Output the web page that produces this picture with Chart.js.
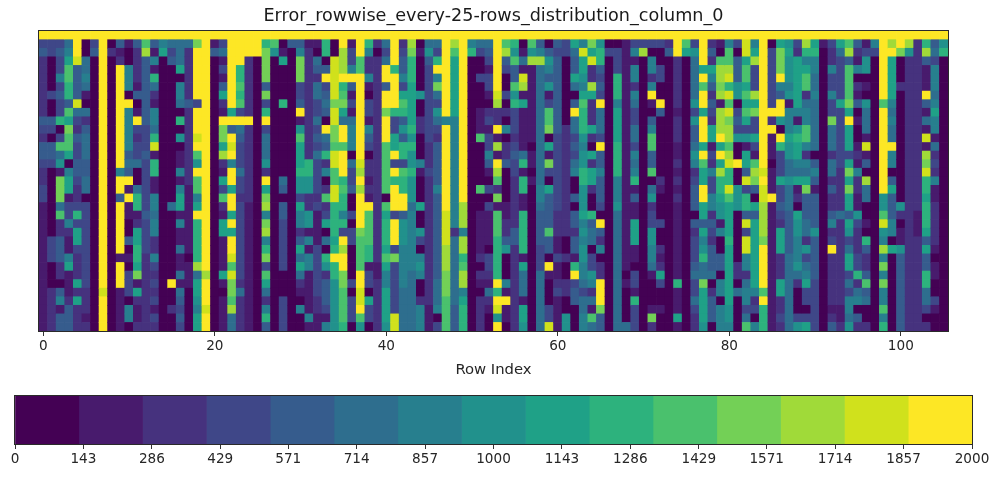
<!DOCTYPE html>
<html>
<head>
<meta charset="utf-8">
<style>
html,body{margin:0;padding:0;background:#fff;width:997px;height:477px;overflow:hidden}
canvas{position:absolute;left:0}
#heat{top:0}
#bar{top:380px}
</style>
<script src="https://cdn.jsdelivr.net/npm/chart.js@4/dist/chart.umd.min.js"></script>
</head>
<body>
<canvas id="heat" width="997" height="380"></canvas>
<canvas id="bar" width="997" height="97"></canvas>
<script>
const titleText = "Error_rowwise_every-25-rows_distribution_column_0";
const xAxisTitle = "Row Index";
const xTicks = [0, 20, 40, 60, 80, 100];
const colorbarTicks = [0, 143, 286, 429, 571, 714, 857, 1000, 1143, 1286, 1429, 1571, 1714, 1857, 2000];
const colorbarEdges = [0, 133.33, 266.67, 400, 533.33, 666.67, 800, 933.33, 1066.67, 1200, 1333.33, 1466.67, 1600, 1733.33, 1866.67, 2000];
const levelColors = ["#440154","#481b6d","#46327e","#3f4788","#365c8d","#2e6e8e","#277f8e","#21918c","#1fa187","#2db27d","#4ac16d","#73d056","#a0da39","#d0e11c","#fde725"];
const rowCount = 35;
// One string per column, top row first. Each token is a colour level (base 15) and how many rows it runs for.
const columnLevels = [
"e1 31 41 27 41 31 21 42 31 22 32 115",
"e1 32 04 31 02 41 31 01 42 31 08 33 03 25",
"e1 31 41 32 61 31 41 31 31 91 01 31 a1 51 71 11 b3 51 a1 22 43 22 01 41 61 11 42",
"e1 51 61 81 a2 92 41 a1 81 b1 a2 81 01 61 82 11 32 61 21 12 61 81 13 21 43",
"e3 d1 44 d1 51 31 21 41 32 42 31 21 21 31 91 31 82 31 23 81 21 81 23",
"e1 02 52 61 51 11 01 51 21 41 53 42 52 01 310 23 11 21",
"e1 31 41 032",
"e30 d1 e4",
"e1 01 21 032",
"e1 41 11 21 e12 61 e2 41 e6 11 e3 15",
"e1 11 02 63 01 e1 64 61 41 51 41 e1 11 e1 12 02 41 01 11 01 33 01 62 01",
"e1 41 21 23 11 41 01 11 e1 31 21 32 51 02 51 92 11 21 82 92 81 b1 11 81 21 12 21",
"e1 a1 c1 48 33 41 36 41 34 29",
"e1 41 11 61 11 91 51 21 11 62 51 91 d1 11 92 12 62 51 62 22 61 31 21 31 21 31 11 31 21",
"e1 61 81 032",
"e1 51 31 41 016 51 08 e1 02 21 02",
"e1 53 81 01 62 51 01 91 01 71 01 12 61 11 61 82 11 61 12 51 12 51 11 51 41 31 41 31",
"e1 51 26 41 29 18 01 13 05",
"e1 b1 e6 31 e3 d1 e1 a1 71 e1 a2 61 81 e1 95 c1 51 82 71 61 82",
"e28 c1 e3 d1 e2",
"e1 11 41 032",
"e1 31 51 11 31 11 41 81 21 11 e1 b2 81 c1 21 11 81 31 a1 21 11 82 14 81 11 01 14",
"e9 81 e1 41 e1 d1 e1 61 e2 81 e2 81 e1 81 e2 d1 a1 d1 b2 a1 c1 52",
"e4 92 a1 91 a1 31 e1 51 41 33 51 32 21 39 21 51 24",
"e3 27 e1 29 115",
"e3 032",
"e1 91 b4 41 b1 31 91 e1 31 53 71 21 e1 81 b1 c1 61 b1 c1 61 91 b1 31 a1 81 51 21 61 91 41",
"e1 a1 71 032",
"e1 01 11 81 04 91 08 51 41 01 42 36 03 34",
"e1 41 01 032",
"e1 41 61 b3 32 41 e1 11 71 a1 83 91 72 31 81 62 21 41 81 51 81 51 21 11 01 61 02",
"e1 11 213 92 72 22 72 11 61 11 62 15 61 11",
"e1 11 01 51 41 21 52 32 51 31 41 31 51 34 21 31 14 36 22 12",
"e1 92 01 41 e1 31 41 51 41 01 e1 51 41 91 21 61 01 21 a1 21 31 81 01 51 01 91 71 21 43 31 11 61",
"e1 02 d5 b1 d2 b2 a1 d2 a2 d2 94 81 91 e1 92 76",
"e2 c3 e1 91 a1 b1 81 51 e2 a1 e3 91 a1 92 61 91 31 e1 c1 e2 b2 a4 91",
"e1 11 32 61 e1 41 11 31 11 51 63 01 51 32 41 02 31 01 32 04 31 01 33 01",
"e3 a2 e10 d1 c1 e1 c1 e4 b1 a4 e2 d2 e1 a1 71",
"e1 91 61 22 61 11 01 32 11 61 41 31 01 22 11 21 11 e1 a4 92 11 32 01 81 32 01",
"e1 21 01 224 12 26",
"e1 51 31 51 e2 41 e2 b1 e3 a6 01 a1 81 93 81 a1 81 62 84 71",
"e4 91 e4 91 32 82 e1 31 e1 91 e3 31 e3 31 b1 36 d2",
"e1 21 31 42 61 31 81 a1 91 41 71 41 92 31 a1 92 e2 41 73 65 55",
"e1 c1 b1 93 85 91 71 91 72 91 73 51 67 57",
"e1 01 11 04 71 02 22 03 61 11 03 81 02 71 31 01 61 71 61 02 21 63",
"e1 51 71 41 39 23 31 215 13",
"e1 51 31 91 e1 61 b1 51 31 71 51 31 21 45 61 410 53 61 01 31",
"e10 61 e10 d4 c3 b3 a4",
"e1 c1 a1 87 613 21 58 43",
"e20 c3 61 c2 91 a1 c2 61 81 93",
"e1 61 91 032",
"e1 51 31 02 31 03 13 a1 05 a1 02 15 21 01 21 11 01 24",
"e1 51 41 31 11 32 11 01 21 31 11 32 61 41 11 01 31 01 31 14 01 32 21 11 51 21 11 02",
"e7 d1 c1 21 21 e1 11 c1 11 e1 c1 a1 21 b1 11 a3 95 e1 91 e1 d1 71 e1",
"e1 a1 c1 41 31 02 31 01 21 01 61 01 22 41 04 12 22 41 71 03 61 11 e1 12 01",
"e1 91 71 a1 42 a1 71 91 33 21 31 41 32 26 42 210",
"e1 01 11 51 11 d1 c1 11 81 15 51 91 11 92 12 95 11 81 53 11 82 71",
"e1 a1 71 c1 19 01 12 01 11 017",
"e1 41 61 c1 514 62 51 44 33 57",
"e1 01 41 71 61 41 71 11 31 a2 b1 01 81 11 b1 31 01 81 44 a1 42 01 e1 11 03 32 d1",
"e1 41 31 49 31 35 33 23 12 31 12 21 31 14",
"e1 32 08 27 26 02 21 02 22 02 72",
"e1 81 51 42 81 51 01 41 e1 52 31 41 31 51 61 02 41 01 42 21 42 11 91 e1 31 42 03",
"e1 61 d1 82 71 61 81 a1 93 71 61 72 92 73 81 61 71 61 72 62 51 31 52 62",
"e1 b1 81 d1 22 c1 81 23 81 21 01 81 21 82 21 02 91 41 52 01 32 71 61 21 51 11 a1 51",
"e1 71 92 41 31 41 31 e1 53 31 e1 42 61 43 31 01 e1 41 21 61 01 22 e3 b1 43",
"e1 01 31 032",
"e1 01 33 93 61 84 94 63 71 514",
"e1 127 01 11 04 51",
"e1 31 61 11 62 21 61 51 32 52 31 61 51 61 91 11 41 12 83 12 01 32 11 91 33",
"e1 31 c1 032",
"e1 31 01 62 21 61 e1 11 01 41 61 a2 42 a1 01 51 71 21 32 72 62 51 11 03 11 b1 21",
"e1 31 02 32 02 e1 41 07 21 11 03 31 02 21 11 21 81 31 02 11 02",
"e1 21 41 032",
"e3 26 11 23 12 21 11 21 11 21 19 91 13 81 11",
"e1 a1 81 032",
"e1 31 71 55 71 31 71 42 51 71 61 21 31 43 01 41 21 33 41 51 32 51 31 22",
"e4 81 e1 a1 e2 81 e3 81 e1 a1 82 e2 82 41 81 61 71 91 52 b1 84 71",
"e1 21 41 21 81 61 41 21 41 31 21 82 11 31 21 61 31 31 61 61 21 41 31 21 43 51 01 21 43 01",
"e1 11 01 a1 c2 b1 c1 11 c3 e1 81 e1 81 c1 92 81 72 11 61 02 42 01 62 01 63",
"e1 61 a2 c1 d1 91 d1 a1 d1 b1 c2 a1 c1 d1 92 d1 a1 84 91 87 72 61",
"e1 31 01 43 72 01 31 41 31 71 02 e1 02 73 06 22 01 51 04",
"e1 d2 81 a2 81 a1 81 a1 81 31 71 11 82 41 d1 31 92 41 d1 31 d2 62 21 51 62 31 51 a1",
"e1 61 81 c1 33 c1 81 b1 32 81 31 11 a1 c1 b1 41 01 81 41 88 61 21 31 01 61",
"e16 d1 e1 d2 c4 b1 e5 a1 e1 93",
"e1 01 37 e1 21 e1 13 01 13 e1 115",
"e1 81 b3 e1 61 41 e2 71 01 e1 91 33 81 32 41 31 21 83 23 82 22 31 21",
"e1 71 81 73 61 71 11 63 81 72 52 71 53 45 59",
"e1 31 21 86 61 11 71 91 82 61 51 81 11 21 01 81 72 63 71 51 21 03 31 71",
"e1 c1 91 61 81 a2 21 51 62 a2 61 21 61 51 81 b1 43 52 21 71 31 51 61 81 32 01 31 81",
"e1 81 91 62 52 61 56 01 41 61 41 11 44 71 45 36",
"e1 11 033",
"e1 31 22 61 32 61 32 b1 53 21 52 21 41 22 41 61 21 31 e1 26 11 21 41",
"e1 81 51 35 81 37 25 51 210 12 21",
"e1 a1 c1 41 a4 b1 81 e1 83 31 81 b1 81 b1 82 41 81 71 31 51 82 31 51 31 62 51 71",
"e1 41 21 11 61 01 21 11 41 01 11 02 11 21 11 61 21 21 12 71 31 23 32 91 21 51 61 01 41 21",
"e1 11 31 72 01 11 01 71 53 11 d1 11 41 01 c1 52 02 11 01 91 41 22 41 a1 41 51 02 21",
"e1 61 31 032",
"e8 a1 e10 72 a1 d1 71 61 c1 61 b1 61 b1 62 a1 61 91",
"e1 c1 e1 85 61 51 61 52 e1 62 01 41 81 43 62 01 81 09",
"e2 b1 03 21 013 71 21 01 12 71 49",
"e1 c1 71 232",
"e1 220 13 211",
"e1 91 c1 41 13 e1 41 11 51 11 d1 11 c1 b1 d1 92 81 93 81 41 81 42 92 52 31 01 21",
"e1 41 51 31 63 51 61 81 62 11 51 21 31 21 61 12 25 11 01 12 02 31 11 02",
"e1 71 91 032"
];

const cells = [];
columnLevels.forEach((text, col) => {
  let row = 0;
  text.split(" ").forEach(tok => {
    const level = parseInt(tok[0], 15);
    const run = parseInt(tok.slice(1), 10);
    for (let k = 0; k < run && row < rowCount; k++, row++) {
      cells.push({x: col, y: [row, row + 1], level});
    }
  });
});

const fontFamily = "'DejaVu Sans', sans-serif";
Chart.defaults.font.family = fontFamily;
Chart.defaults.color = "#262626";

const frame = {
  id: "frame",
  afterDatasetsDraw(chart) {
    const a = chart.chartArea, c = chart.ctx;
    c.save();
    c.strokeStyle = "#2a2a2a";
    c.lineWidth = 1;
    c.strokeRect(Math.round(a.left) - 0.5, Math.round(a.top) - 0.5, Math.round(a.width) + 1, Math.round(a.height) + 1);
    c.restore();
  }
};

new Chart(document.getElementById("heat"), {
  type: "bar",
  plugins: [frame],
  data: {
    datasets: [{
      data: cells,
      backgroundColor: cells.map(c => levelColors[c.level]),
      borderWidth: 0,
      barPercentage: 1,
      categoryPercentage: 1
    }]
  },
  options: {
    responsive: false,
    animation: false,
    layout: {padding: {left: 39, right: 49, top: 0, bottom: 0}},
    plugins: {
      legend: {display: false},
      tooltip: {enabled: false},
      title: {
        display: true,
        text: titleText,
        font: {size: 17.6, lineHeight: 1.2, weight: "normal", family: fontFamily},
        color: "#1a1a1a",
        padding: {top: 6, bottom: 4}
      }
    },
    scales: {
      x: {
        type: "linear",
        offset: false,
        min: -0.5,
        max: 105.5,
        afterBuildTicks(scale) { scale.ticks = xTicks.map(v => ({value: v})); },
        afterFit(scale) { scale.height = 49; },
        grid: {display: true, offset: false, drawOnChartArea: false, drawTicks: true, tickLength: 5, tickColor: "#333"},
        border: {display: false},
        ticks: {autoSkip: false, maxRotation: 0, font: {size: 13.6}, padding: 2, color: "#262626"},
        title: {display: true, text: xAxisTitle, font: {size: 14.8}, color: "#262626", padding: {top: 0, bottom: 1}}
      },
      y: {type: "linear", display: false, reverse: true, min: 0, max: rowCount}
    }
  }
});

new Chart(document.getElementById("bar"), {
  type: "bar",
  plugins: [frame],
  data: {
    labels: [""],
    datasets: levelColors.map((color, i) => ({
      data: [[colorbarEdges[i], colorbarEdges[i + 1]]],
      backgroundColor: color,
      borderWidth: 0,
      grouped: false,
      barPercentage: 1,
      categoryPercentage: 1
    }))
  },
  options: {
    indexAxis: "y",
    responsive: false,
    animation: false,
    layout: {padding: {left: 15, right: 25, top: 16, bottom: 0}},
    plugins: {legend: {display: false}, tooltip: {enabled: false}, title: {display: false}},
    scales: {
      x: {
        type: "linear",
        offset: false,
        min: 0,
        max: 2000,
        afterBuildTicks(scale) { scale.ticks = colorbarTicks.map(v => ({value: v})); },
        afterFit(scale) { scale.height = 33; },
        grid: {display: true, offset: false, drawOnChartArea: false, drawTicks: true, tickLength: 5, tickColor: "#333"},
        border: {display: false},
        ticks: {autoSkip: false, maxRotation: 0, font: {size: 13.6}, padding: 2, color: "#262626", callback: v => String(v)}
      },
      y: {type: "category", display: false}
    }
  }
});
</script>
</body>
</html>
